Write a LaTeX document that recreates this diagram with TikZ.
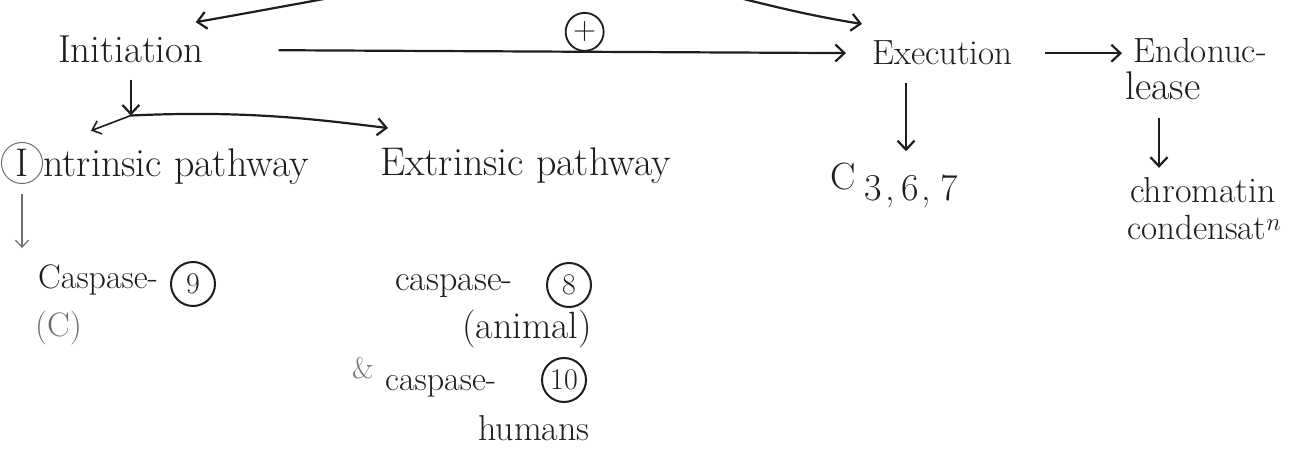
\documentclass[tikz,border=0pt]{standalone}
\usepackage{fontspec}
\usetikzlibrary{arrows.meta,calc}
\definecolor{ink}{HTML}{1E1E1E}
\definecolor{pencil}{HTML}{6E6E6E}
\newcommand{\fs}[1]{\fontsize{#1}{#1}\selectfont}
\begin{document}
\begin{tikzpicture}[x=1pt,y=-1pt,
  txt/.style={inner sep=0pt, anchor=base west, text=ink, font=\fs{34}},
  faint/.style={inner sep=0pt, anchor=base west, text=pencil, font=\fs{30}},
  numring/.style={circle, draw=ink, line width=2pt, minimum size=44pt, inner sep=0pt, text=ink, font=\fs{30}},
  link/.style={draw=ink, line width=2.2pt, -{Straight Barb[length=9pt,width=17pt,line width=2.2pt]}},
  thinlink/.style={draw=pencil, line width=1.2pt, -{Straight Barb[length=7pt,width=13pt,line width=1.2pt]}}]

% canvas
\fill[white] (0,0) rectangle (1301,449);
\useasboundingbox (0,0) rectangle (1301,449);

% top row
\node[txt, font=\fs{39}] (init) at (58,63) {Initiation};
\node[txt, font=\fs{35}] (exec) at (872,65) {Execution};
\node[txt, font=\fs{35}] (endo) at (1133,63) {Endonuc-};
\node[txt, font=\fs{40}] (endob) at (1125,100) {lease};

% second row
\node[circle, draw=pencil, line width=1pt, inner sep=4pt, text=ink, font=\fs{40}] (ic) at (22,163) {I};
\node[txt, font=\fs{40}] (intr) at (ic.base -| ic.east) {ntrinsic pathway};
\node[txt, font=\fs{40}] (extr) at (380,176) {Extrinsic pathway};
\node[txt, font=\fs{38}] (c367) at (830,190) {C\hspace{9pt}\raisebox{-10pt}{3\hspace{3pt},\hspace{7pt}6\hspace{3pt},\hspace{9pt}7}};
\node[txt, font=\fs{36}] (chrom) at (1130,203) {chromatin};
\node[txt, font=\fs{35}] (chromb) at (1127,240) {condensat$^{n}$};

% caspases
\node[txt] (cas9) at (38,288) {Caspase-};
\node[numring] (n9) at (193,284) {9};
\node[faint, font=\fs{34}] (cnote) at (35,336) {(C)};
\node[txt, font=\fs{36}] (cas8) at (395,290) {caspase-};
\node[numring] (n8) at (569,285) {8};
\node[txt, font=\fs{38}] (animal) at (462,338) {(animal)};
\node[faint] (amp) at (352,378) {\&};
\node[txt] (cas10) at (385,390) {caspase-};
\node[numring] (n10) at (564,380) {10};
\node[txt, font=\fs{36}] (human) at (478,440) {humans};

% arcs coming down from above
\coordinate (src) at (560,-40);
\draw[link] (src) .. controls (430,-22) and (300,4) .. ($(init.north east)+(-8,-14)$);
\draw[link] (src) .. controls (690,-20) and (760,8) .. ($(exec.north west)+(-10,-17)$);

% initiation leads to execution
\draw[link, shorten <=75pt, shorten >=26pt] (init.east) --
  node[pos=0.57, anchor=south, circle, draw=ink, line width=1.8pt, inner sep=1pt, minimum size=38pt, text=ink, font=\fs{32}] (plus) {+}
  (exec.west);
\draw[link, shorten <=32pt, shorten >=11pt] (exec.east) -- (exec.east -| endo.west);

% downward steps
\coordinate (fork) at ($(init.south)+(0,52)$);
\draw[link, shorten <=16pt] (init.south) -- (fork);
\draw[line width=1.6pt, draw=ink, -{Straight Barb[length=8pt,width=14pt,line width=1.6pt]}] (fork) -- ($(intr.north west)+(48,-18)$);
\draw[link] (fork) .. controls (250,110) and (320,120) .. ($(extr.north west)+(8,-20)$);

\coordinate (ed) at ([xshift=34pt]exec.south west);
\draw[link, shorten <=18pt, shorten >=12pt] (ed) -- (ed |- c367.north);
\coordinate (ld) at ([xshift=34pt]endob.south west);
\draw[link, shorten <=17pt, shorten >=10pt] (ld) -- (ld |- chrom.north);
\draw[thinlink, shorten <=10pt, shorten >=16pt] (ic.south) -- (ic.south |- cas9.north);
\end{tikzpicture}
\end{document}
